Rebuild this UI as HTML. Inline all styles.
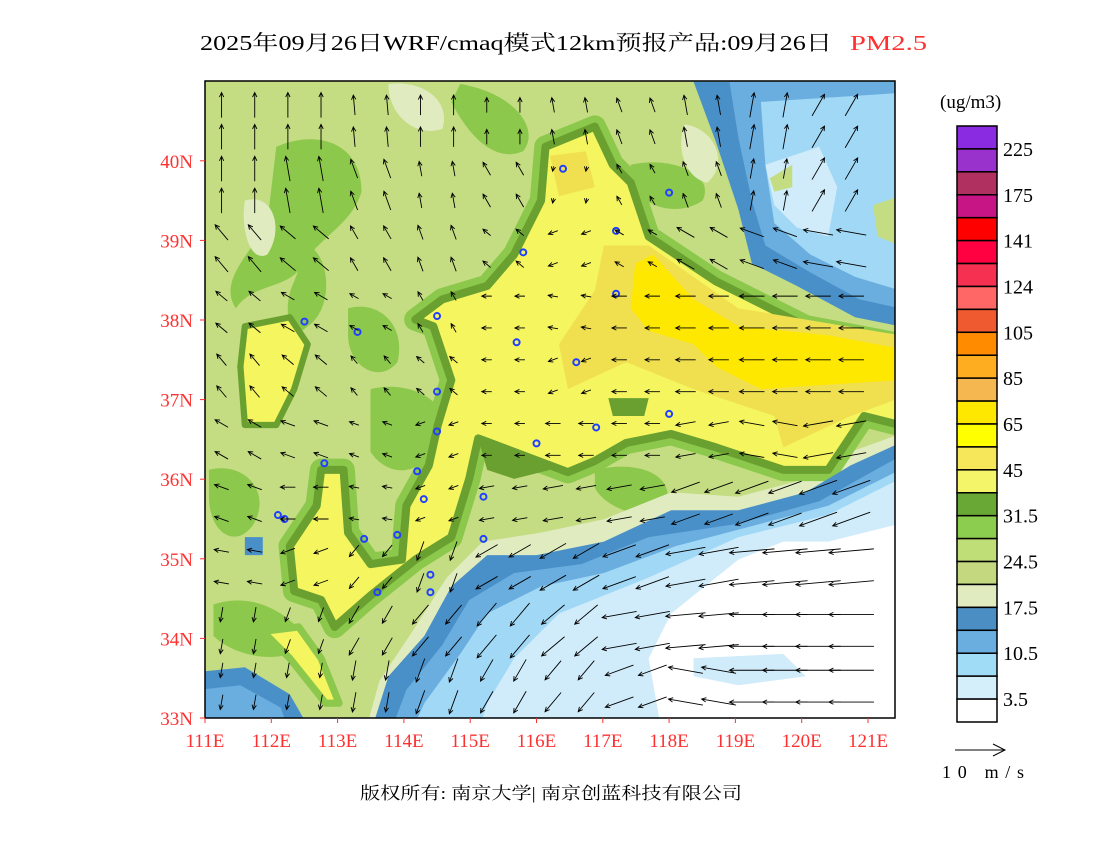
<!DOCTYPE html>
<html><head><meta charset="utf-8"><style>
body{margin:0;background:#fff;width:1100px;height:850px;overflow:hidden}
svg text{font-family:"Liberation Serif","Noto Serif CJK SC","Noto Sans CJK SC",serif}
</style></head><body>
<svg id="chart" width="1100" height="850" viewBox="0 0 1100 850">
<text x="200" y="50" font-size="21" textLength="632" lengthAdjust="spacingAndGlyphs">2025年09月26日WRF/cmaq模式12km预报产品:09月26日</text>
<text x="850" y="50" font-size="21" fill="#ff3030" textLength="77" lengthAdjust="spacingAndGlyphs">PM2.5</text>
<defs><clipPath id="mc"><rect x="205" y="81" width="690" height="637"/></clipPath></defs>
<g clip-path="url(#mc)">
<rect x="205" y="81" width="690" height="637" fill="#c4dc82"/>
<g transform="translate(200,75) scale(0.4487)">
<g fill="#8cc84b">
<path d="M170,160 C260,120 360,150 360,260 C340,330 270,360 230,420 C200,480 120,460 80,520 C40,460 110,400 150,330 Z"/>
<path d="M240,380 C290,400 300,520 240,560 C200,600 180,520 210,460 Z"/>
<path d="M330,520 C400,500 460,560 440,640 C400,690 330,650 330,580 Z"/>
<path d="M380,700 C460,680 560,720 540,800 C500,900 420,900 380,840 Z"/>
<path d="M20,880 C100,860 160,930 120,1000 C80,1060 20,1020 20,940 Z"/>
<path d="M580,20 C700,40 760,120 720,170 C650,200 590,120 560,60 Z"/>
<path d="M960,200 C1050,180 1150,220 1120,280 C1060,320 980,290 960,240 Z"/>
<path d="M880,880 C960,860 1060,880 1040,960 C980,1000 900,960 880,920 Z"/>
<path d="M30,1180 C120,1150 200,1200 240,1260 C200,1320 80,1300 30,1250 Z"/>
</g>
<g fill="#e0ecc0">
<path d="M100,280 C160,260 190,340 150,400 C110,420 90,340 100,280 Z"/>
<path d="M420,20 C500,10 560,60 540,120 C480,140 420,90 420,20 Z"/>
<path d="M1080,110 C1150,120 1180,200 1130,240 C1080,230 1060,160 1080,110 Z"/>
</g>
<path fill="#e0ecc0" d="M1560,800 L1560,1530 L350,1530 L400,1350 L480,1230 L550,1120 L630,1040 L760,1020 L900,990 L1050,930 L1200,940 L1350,900 L1450,840 Z"/>
<g>
<path d="M770,160 L880,115 L920,200 L960,240 L1000,360 L1150,460 L1350,560 L1560,600 L1560,780 L1480,760 L1400,880 L1300,880 L1150,830 L1050,800 L950,820 L880,860 L820,885 L700,840 L620,810 L600,900 L560,1030 L480,1080 L380,1160 L300,1230 L270,1170 L210,1150 L200,1050 L260,960 L270,880 L320,880 L330,1020 L380,1090 L450,1080 L460,960 L510,870 L530,780 L560,680 L520,560 L480,545 L540,500 L640,470 L700,400 L760,280 Z" fill="#f5f560" stroke="#8cc84b" stroke-width="50" stroke-linejoin="round"/>
<path d="M770,160 L880,115 L920,200 L960,240 L1000,360 L1150,460 L1350,560 L1560,600 L1560,780 L1480,760 L1400,880 L1300,880 L1150,830 L1050,800 L950,820 L880,860 L820,885 L700,840 L620,810 L600,900 L560,1030 L480,1080 L380,1160 L300,1230 L270,1170 L210,1150 L200,1050 L260,960 L270,880 L320,880 L330,1020 L380,1090 L450,1080 L460,960 L510,870 L530,780 L560,680 L520,560 L480,545 L540,500 L640,470 L700,400 L760,280 Z" fill="#f5f560" stroke="#6aa030" stroke-width="18" stroke-linejoin="round"/>
<path d="M100,560 L200,540 L240,600 L210,700 L170,780 L100,780 L90,650 Z" fill="#f5f560" stroke="#6aa030" stroke-width="14" stroke-linejoin="round"/>
<path d="M140,1240 L220,1230 L270,1300 L310,1400 L280,1400 L200,1300 Z" fill="#f5f560" stroke="#8cc84b" stroke-width="16" stroke-linejoin="round"/>
<path d="M900,380 L1000,380 L1200,520 L1560,580 L1560,720 L1450,760 L1300,830 L1280,760 L1100,700 L950,640 L820,700 L800,600 L880,480 Z" fill="#f0e050"/>
<path d="M780,180 L860,170 L880,250 L800,270 Z" fill="#f0e050"/>
<path d="M970,420 L1010,400 L1100,500 L1200,560 L1400,580 L1560,610 L1560,680 L1400,690 L1250,700 L1150,650 L1100,600 L1000,570 L960,520 Z" fill="#ffe800"/>
<path d="M910,720 L1000,720 L990,760 L920,760 Z" fill="#6aa030"/>
<path d="M620,810 L700,840 L780,880 L700,900 L640,880 Z" fill="#6aa030"/>
</g>
<g>
<path fill="#4a90c8" d="M1560,820 L1560,1530 L360,1530 L420,1340 L500,1250 L560,1140 L640,1070 L750,1070 L900,1040 L1050,970 L1200,970 L1350,930 L1450,870 Z"/>
<path fill="#6aaee0" d="M1560,850 L1560,1530 L400,1530 L460,1370 L540,1270 L600,1170 L700,1110 L850,1090 L1000,1030 L1200,1000 L1380,950 Z"/>
<path fill="#a0d8f5" d="M1560,880 L1560,1530 L440,1530 L500,1400 L580,1290 L640,1200 L760,1140 L900,1110 L1060,1050 L1250,1000 L1400,960 Z"/>
<path fill="#d0ecfa" d="M1560,900 L1560,1530 L600,1530 L640,1400 L700,1300 L800,1200 L1000,1120 L1200,1030 L1400,980 Z"/>
<path fill="#ffffff" d="M1560,1000 L1560,1530 L1450,1530 L1400,1450 L1200,1440 L1030,1470 L1000,1300 L1050,1200 L1200,1080 L1300,1040 L1400,1040 Z"/>
<path fill="#d0ecfa" d="M1100,1300 L1300,1290 L1350,1340 L1200,1360 L1100,1340 Z"/>
</g>
<g>
<path fill="#4a90c8" d="M1100,15 L1560,15 L1560,560 L1460,540 L1330,470 L1230,420 L1200,300 L1150,150 Z"/>
<path fill="#6aaee0" d="M1180,15 L1560,15 L1560,520 L1470,500 L1360,440 L1260,380 L1230,280 L1200,140 Z"/>
<path fill="#a0d8f5" d="M1250,60 L1560,40 L1560,480 L1460,450 L1360,400 L1280,330 L1260,200 Z"/>
<path fill="#d0ecfa" d="M1260,200 L1380,160 L1420,250 L1400,360 L1330,340 L1280,290 Z"/>
<path fill="#c4dc82" d="M1500,290 L1560,270 L1560,380 L1510,360 Z"/>
<path fill="#c4dc82" d="M1270,230 L1320,200 L1320,250 L1280,260 Z"/>
</g>
<g>
<path fill="#4a90c8" d="M0,1330 L100,1320 L200,1380 L240,1450 L230,1540 L0,1540 Z"/>
<path fill="#6aaee0" d="M0,1370 L90,1360 L180,1410 L200,1470 L180,1540 L0,1540 Z"/>
<path fill="#4a90c8" d="M100,1030 L140,1030 L140,1070 L100,1070 Z"/>
</g>
</g>
<g id="cities" fill="none" stroke="#2040ff" stroke-width="2"></g>
<g id="winds" stroke="#000" stroke-width="0.9" fill="none"></g>
</g>
<rect x="205" y="81" width="690" height="637" fill="none" stroke="#000" stroke-width="1.5"/>
<g id="axes" font-size="19" fill="#ff3030"></g>
<g id="legend"></g>
<text x="940" y="108" font-size="19">(ug/m3)</text>
<g><line x1="955" y1="750" x2="1005" y2="750" stroke="#000"/><path d="M993,744 L1005,750 L993,756" fill="none" stroke="#000"/></g>
<text x="942" y="778" font-size="18" textLength="82">10 m/s</text>
<text x="360" y="799" font-size="17" textLength="382" lengthAdjust="spacingAndGlyphs">版权所有: 南京大学| 南京创蓝科技有限公司</text>
</svg>
<script>
const lonTicks=[111,112,113,114,115,116,117,118,119,120,121];
const latTicks=[33,34,35,36,37,38,39,40];
const legendColors=["#8a2be2","#9932cc","#b03060","#c71585","#ff0000","#ff0040","#f53050","#ff6666","#f05a30","#ff8c00","#ffad20","#f5b850","#ffe800","#ffff00","#f5e65a","#f5f56a","#6aa835","#8ccc4e","#c0de78","#c4d880","#e0ecc0","#4a8ec4","#6aaee0","#a0dcf5","#d4eefa","#ffffff"];
const legendLabels=["225","175","141","124","105","85","65","45","31.5","24.5","17.5","10.5","3.5"];
const windLats=[40.5,39.7,38.9,38.1,37.3,36.5,35.7,34.9,34.1,33.4];
const windLons=[111.5,112.5,113.5,114.5,115.5,116.5,117.5,118.5,119.5,120.5];
const windDir=[
[90,90,95,90,90,100,110,100,80,60],
[90,100,110,100,120,260,120,110,80,60],
[130,140,120,110,140,200,150,150,160,170],
[140,150,150,120,180,170,180,180,180,180],
[130,140,130,140,180,200,180,180,180,180],
[150,160,160,200,180,180,180,190,170,190],
[160,180,170,200,190,190,190,200,200,200],
[170,200,230,250,210,210,200,190,185,185],
[260,250,240,230,230,220,190,185,180,180],
[260,260,260,250,240,230,200,170,180,180]];
const windSpd=[
[5,5,4,4,3,3,3,4,5,5],
[5,5,4,3,3,1,2,3,4,5],
[4,4,3,3,2,2,2,4,5,6],
[3,3,2,2,2,2,3,4,5,5],
[3,3,2,2,2,2,3,4,5,5],
[3,3,2,2,2,3,3,4,5,6],
[3,3,2,2,3,4,5,6,7,8],
[3,3,3,4,5,6,7,8,9,9],
[3,3,4,5,6,6,7,8,9,9],
[3,3,4,5,5,5,6,7,9,9]];
const cityLon=[113.3,112.5,114.5,115.7,116.6,116.4,117.2,118,114.5,114.2,112.8,113.4,112.2,116.9,118,116,115.8,114.3,114.5,114.4,113.9,112.1,115.2,115.2,114.4,113.6,117.2];
const cityLat=[37.85,37.98,38.05,37.72,37.47,39.9,39.12,39.6,36.6,36.1,36.2,35.25,35.5,36.65,36.82,36.45,38.85,35.75,37.1,34.8,35.3,35.55,35.25,35.78,34.58,34.58,38.33];
const NS="http://www.w3.org/2000/svg";
const x=lon=>205+(lon-111)*66.3;
const y=lat=>718-(lat-33)*79.6;
function mk(t,a,p){const e=document.createElementNS(NS,t);for(const k in a)e.setAttribute(k,a[k]);p.appendChild(e);return e;}
const ax=document.getElementById('axes');
lonTicks.forEach(v=>{const t=mk('text',{x:x(v),y:747,'text-anchor':'middle'},ax);t.textContent=v+'E';


mk('line',{x1:x(v),y1:718,x2:x(v),y2:723,stroke:'#ff3030'},ax);});
latTicks.forEach(v=>{const t=mk('text',{x:193,y:y(v)+7,'text-anchor':'end'},ax);t.textContent=v+'N';


mk('line',{x1:200,y1:y(v),x2:205,y2:y(v),stroke:'#ff3030'},ax);});
const lg=document.getElementById('legend');
const bh=596/legendColors.length;
legendColors.forEach((c,i)=>{const r=mk('rect',{x:957,y:126+i*bh,width:40,height:bh,fill:c,stroke:'#000','stroke-width':1.5},lg);

});
legendLabels.forEach((l,i)=>{const t=mk('text',{x:1003,y:126+(2*i+1)*bh+7,'font-size':20},lg);t.textContent=l;

});
const cg=document.getElementById('cities');
cityLon.forEach((lo,i)=>{const c=mk('circle',{cx:x(lo),cy:y(cityLat[i]),r:3},cg);

});
const wg=document.getElementById('winds');
const offs=[[-0.25,0.2],[0.25,0.2],[-0.25,-0.2],[0.25,-0.2]];
windLats.forEach((la,r)=>windLons.forEach((lo,c)=>{offs.forEach(o=>{
const L=windSpd[r][c]*5,a=windDir[r][c]*Math.PI/180;
const cx=x(lo+o[0]),cy=y(la+o[1]);const dx=Math.cos(a)*L/2,dy=-Math.sin(a)*L/2;
const x2=cx+dx,y2=cy+dy;const ha=Math.atan2(-dy,-dx);
const p=mk('path',{d:`M${cx-dx},${cy-dy}L${x2},${y2}M${x2+5*Math.cos(ha+0.45)},${y2+5*Math.sin(ha+0.45)}L${x2},${y2}L${x2+5*Math.cos(ha-0.45)},${y2+5*Math.sin(ha-0.45)}`},wg);

});}));
</script>
</body></html>
